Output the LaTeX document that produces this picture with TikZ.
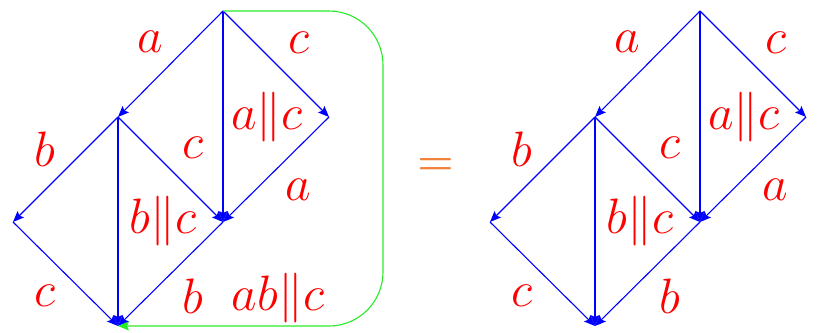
\documentclass[tikz,border=0pt]{standalone}
\usetikzlibrary{arrows.meta}
\definecolor{latblue}{RGB}{0,0,255}
\definecolor{latred}{RGB}{255,0,0}
\definecolor{latgreen}{RGB}{40,235,40}
\definecolor{latorange}{RGB}{240,130,60}
\tikzset{
  cover/.style={latblue, line width=0.55pt, -{Stealth[length=5.5pt, width=4.5pt, inset=1pt]}},
  lbl/.style={latred, inner sep=0pt, font=\fontsize{25.5}{28}\selectfont},
}

\begin{document}
\begin{tikzpicture}[x=0.5pt, y=-0.5pt]
    \useasboundingbox (0,0) rectangle (818,332);
    % the same lattice twice, the right copy shifted by 477
    \foreach \dx/\s in {0/l, 477/r} {
      % vertices
      \coordinate (top\s) at (\dx+223, 11);
      \coordinate (left\s) at (\dx+118, 117);
      \coordinate (right\s) at (\dx+329, 117);
      \coordinate (far\s) at (\dx+13, 222);
      \coordinate (mid\s) at (\dx+223, 222);
      \coordinate (bot\s) at (\dx+118, 326);
      % covering edges
      \draw[cover] (top\s) -- (left\s);
      \draw[cover] (top\s) -- (right\s);
      \draw[cover] (top\s) -- (mid\s);
      \draw[cover] (right\s) -- (mid\s);
      \draw[cover] (left\s) -- (far\s);
      \draw[cover] (left\s) -- (mid\s);
      \draw[cover] (left\s) -- (bot\s);
      \draw[cover] (far\s) -- (bot\s);
      \draw[cover] (mid\s) -- (bot\s);
      % labels
      \node[lbl] (la\s) at (\dx+150, 42) {$a$};
      \node[lbl] (lc\s) at (\dx+299, 43) {$c$};
      \node[lbl] (lac\s) at (\dx+267, 117) {$a\|c$};
      \node[lbl] (lb\s) at (\dx+45, 149) {$b$};
      \node[lbl] (lcm\s) at (\dx+193, 148) {$c$};
      \node[lbl] (lar\s) at (\dx+298, 190) {$a$};
      \node[lbl] (lbc\s) at (\dx+163, 221) {$b\|c$};
      \node[lbl] (lcb\s) at (\dx+45, 296) {$c$};
      \node[lbl] (lbb\s) at (\dx+193, 296) {$b$};
    }
    % extra edge on the left only
    \coordinate (gtop) at (383, 11);
    \coordinate (gbot) at (383, 326);
    \draw[latgreen, line width=0.55pt, rounded corners=27pt,
      -{Stealth[length=5.5pt, width=4.5pt, inset=1pt]}]
      (topl) -- (gtop) -- (gbot) -- (botl);
    \node[lbl] (labc) at (278, 298) {$ab\|c$};
    \node[latorange, font=\fontsize{21}{24}\selectfont\boldmath] (eq) at (435.5, 166.5) {$=$};
\end{tikzpicture}
\end{document}
